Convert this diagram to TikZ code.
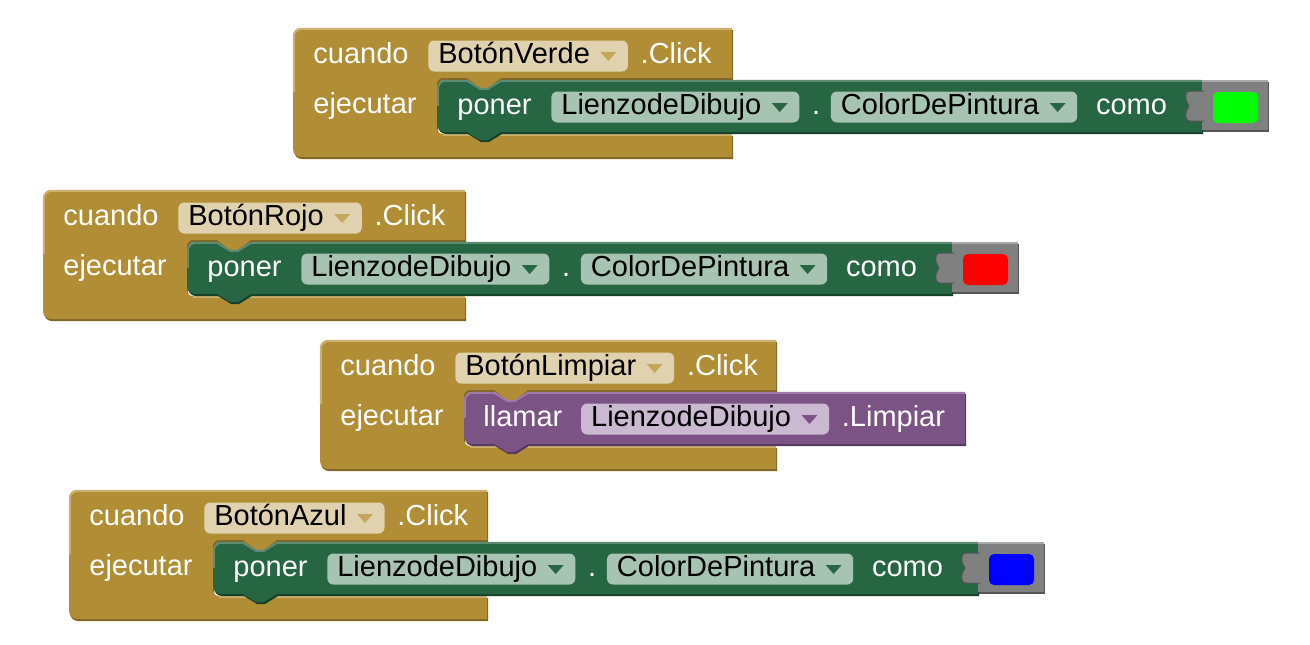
\documentclass[tikz,border=0pt]{standalone}
\usepackage{fontspec}
\setmainfont{Liberation Sans}
\usepackage{tikz}
\usetikzlibrary{positioning,calc}

\definecolor{marron}{HTML}{B18E35}
\definecolor{marronClaro}{HTML}{CBB06E}
\definecolor{marronOscuro}{HTML}{7F6424}
\definecolor{campoTan}{HTML}{E0D2AE}
\definecolor{flechaTan}{HTML}{C6A65A}
\definecolor{verde}{HTML}{266643}
\definecolor{verdeClaro}{HTML}{5E8C72}
\definecolor{verdeOscuro}{HTML}{17402A}
\definecolor{campoVerde}{HTML}{A7C3B1}
\definecolor{morado}{HTML}{7C5385}
\definecolor{moradoClaro}{HTML}{9D7BA6}
\definecolor{moradoOscuro}{HTML}{55395C}
\definecolor{campoMorado}{HTML}{CAB9D1}
\definecolor{gris}{HTML}{808080}
\definecolor{grisClaro}{HTML}{A8A8A8}
\definecolor{grisOscuro}{HTML}{555555}

\begin{document}
\begin{tikzpicture}[x=0.5pt, y=-0.5pt,
  every node/.style={font=\fontsize{14.5pt}{17pt}\selectfont, text height=10.5pt, text depth=3pt},
  etiqueta/.style={text=white, inner sep=0pt, anchor=west},
  campo/.style={fill=#1, text=black, rounded corners=3pt, inner xsep=5pt, inner ysep=1pt, anchor=west},
  sombra/.style={preaction={fill=#1, transform canvas={shift={(1,2)}}}}]
\useasboundingbox (0,0) rectangle (1310,644);

% bloques cuando ... ejecutar
\foreach \ox/\oy/\boton/\w/\n in {293/28/BotónVerde/439/v, 43/190/BotónRojo/422/r, 320/340/BotónLimpiar/456/l, 69/490/BotónAzul/418/a}{
\begin{scope}[shift={(\ox,\oy)}]
\fill[marron, sombra=marronOscuro] (0,64) [rounded corners=4pt] -- (0,0) -- (20,0) [sharp corners] -- (\w,0) -- (\w,50) -- (208,50) -- (195,60) -- (187,60) -- (174,50) -- (160,50) [rounded corners=3pt] -- (144,50) -- (144,106) -- (160,106) [sharp corners] -- (\w,106) -- (\w,129) -- (20,129) [rounded corners=4pt] -- (0,129) -- cycle;
\draw[marronClaro, line width=1pt] (0.75,64) [rounded corners=4pt] -- (0.75,0.75) -- (20,0.75) [sharp corners] -- (\w,0.75);
\draw[marronClaro, line width=1pt] (150,106.75) -- (\w,106.75);
\node[etiqueta] (cuando\n) at (20,28) {cuando};
\node[campo=campoTan, right=9.5pt of cuando\n] (boton\n) {\boton\kern14pt};
\fill[flechaTan] ($(boton\n.east)+(-28,-4)$) -- ++(16,0) -- ++(-8,9) -- cycle;
\node[etiqueta, right=6pt of boton\n] (click\n) {.Click};
\node[etiqueta] (ejecutar\n) at (20,78) {ejecutar};
\end{scope}}

% bloques poner
\foreach \ox/\oy/\muestra/\n in {293/28/green/v, 43/190/red/r, 69/490/blue/a}{
\begin{scope}[shift={(\ox,\oy)}]
\fill[verde, sombra=verdeOscuro] (144,78) [rounded corners=4pt] -- (144,52) -- (164,52) [sharp corners] -- (174,52) -- (187,60) -- (195,60) -- (208,52) -- (909,52) -- (909,104) -- (208,104) -- (195,112) -- (187,112) -- (174,104) -- (164,104) [rounded corners=4pt] -- (144,104) -- cycle;
\draw[verdeClaro, line width=1pt] (144.75,78) [rounded corners=4pt] -- (144.75,52.75) -- (164,52.75) [sharp corners] -- (174,52.75) -- (187,60.75) -- (195,60.75) -- (208,52.75) -- (909,52.75);
\node[etiqueta] (poner\n) at (164,79) {poner};
\node[campo=campoVerde, right=9.5pt of poner\n] (lienzo\n) {LienzodeDibujo\kern14pt};
\fill[verde] ($(lienzo\n.east)+(-28,-4)$) -- ++(16,0) -- ++(-8,9) -- cycle;
\node[etiqueta, right=6pt of lienzo\n] (punto\n) {.};
\node[campo=campoVerde, right=5pt of punto\n] (propiedad\n) {ColorDePintura\kern14pt};
\fill[verde] ($(propiedad\n.east)+(-28,-4)$) -- ++(16,0) -- ++(-8,9) -- cycle;
\node[etiqueta, right=9pt of propiedad\n] (como\n) {como};
% bloque de color
\fill[gris, sombra=grisOscuro] (909,52) rectangle (975,102);
\fill[gris, draw=grisOscuro, line width=0.5pt] (911,63) -- (897,63) .. controls (892,63) and (891,70) .. (896,78) .. controls (891,86) and (892,93) .. (897,93) -- (911,93);
\draw[grisClaro, line width=1pt] (909,52.75) -- (975,52.75);
\fill[\muestra, rounded corners=2.5pt] (920,64) rectangle (965,95);
\end{scope}}

% bloque llamar
\begin{scope}[shift={(320,340)}]
\fill[morado, sombra=moradoOscuro] (144,78) [rounded corners=4pt] -- (144,52) -- (164,52) [sharp corners] -- (174,52) -- (187,60) -- (195,60) -- (208,52) -- (645,52) -- (645,104) -- (208,104) -- (195,112) -- (187,112) -- (174,104) -- (164,104) [rounded corners=4pt] -- (144,104) -- cycle;
\draw[moradoClaro, line width=1pt] (144.75,78) [rounded corners=4pt] -- (144.75,52.75) -- (164,52.75) [sharp corners] -- (174,52.75) -- (187,60.75) -- (195,60.75) -- (208,52.75) -- (645,52.75);
\node[etiqueta] (llamar) at (163,79) {llamar};
\node[campo=campoMorado, right=9pt of llamar] (lienzol) {LienzodeDibujo\kern14pt};
\fill[morado] ($(lienzol.east)+(-28,-4)$) -- ++(16,0) -- ++(-8,9) -- cycle;
\node[etiqueta, right=6pt of lienzol] (limpiar) {.Limpiar};
\end{scope}
\end{tikzpicture}
\end{document}
